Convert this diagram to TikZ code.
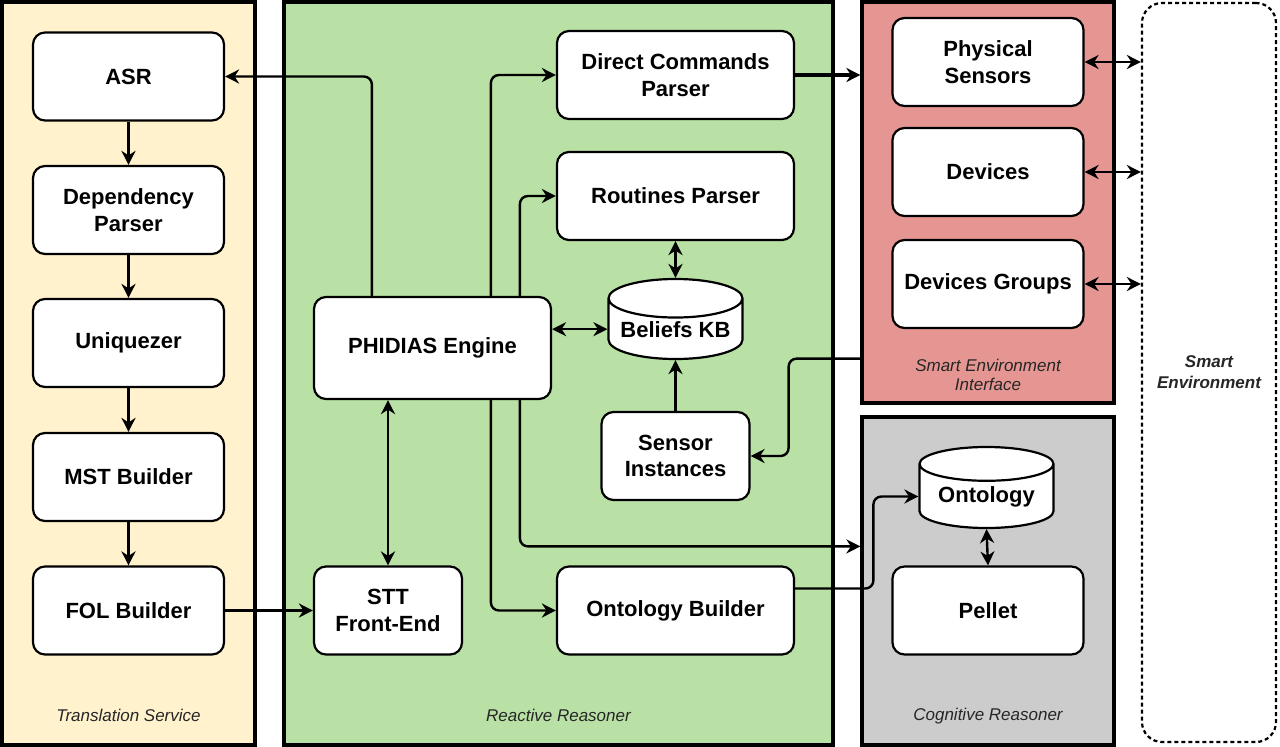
\documentclass[tikz,border=0pt]{standalone}
\usepackage{fontspec}
\setmainfont{Liberation Sans}
\setsansfont{Liberation Sans}
\usetikzlibrary{arrows.meta, shapes.geometric, positioning, calc}
\definecolor{transfill}{RGB}{255, 242, 204}
\definecolor{reactfill}{RGB}{185, 224, 165}
\definecolor{envfill}{RGB}{229, 150, 146}
\definecolor{cogfill}{RGB}{204, 204, 204}

\begin{document}
\begin{tikzpicture}[
	x=1pt, y=-1pt,
	>={Stealth[length=14pt, width=14pt, inset=4.5pt]},
	font=\sffamily,
	% Styles for the service containers
	container/.style={draw=black, line width=3.2pt, minimum width=#1, inner sep=0pt},
	grouplabel/.style={font=\sffamily\itshape\fontsize{17}{19}\selectfont, text=black!85, align=center},
	% Styles for the component blocks
	boxnode/.style={draw=black, line width=2.2pt, fill=white, rounded corners=12pt, align=center,
		font=\sffamily\bfseries\fontsize{22}{26.5}\selectfont, minimum width=191pt, minimum height=88pt, inner sep=0pt},
	dbnode/.style={cylinder, shape border rotate=90, aspect=0.35, anchor=shape center, draw=black, line width=2.2pt, fill=white,
		font=\sffamily\bfseries\fontsize{22}{26.5}\selectfont, minimum width=134pt, minimum height=80pt, inner sep=0pt},
	% Styles for the connectors
	conn/.style={line width=2.4pt, ->, rounded corners=8pt},
	biconn/.style={line width=2.4pt, <->},
	thickconn/.style={line width=3.2pt, ->}
	]
	\useasboundingbox (0,0) rectangle (1280,747);
	
	% ==========================================
	% CONTAINERS
	% ==========================================
	\node[container=253pt, fill=transfill, minimum height=743pt] (ts) at (128.5,373.5) {};
	\node[container=549pt, fill=reactfill, minimum height=743pt] (rr) at (558.5,373.5) {};
	\node[container=252pt, fill=envfill, minimum height=401pt] (sei) at (988,202.5) {};
	\node[container=252pt, fill=cogfill, minimum height=328pt] (cog) at (988,581) {};
	\node[draw=black, line width=2.2pt, dash pattern=on 4pt off 3pt, rounded corners=20pt,
		minimum width=134pt, minimum height=739pt] (se) at (1209,372.5) {};
	
	\node[grouplabel] at ([yshift=31pt]ts.south) {Translation Service};
	\node[grouplabel] at ([yshift=31pt]rr.south) {Reactive Reasoner};
	\node[grouplabel] at ([yshift=31pt]cog.south) {Cognitive Reasoner};
	\node[grouplabel] at ([yshift=30pt]sei.south) {Smart Environment\\Interface};
	\node[grouplabel, font=\sffamily\bfseries\itshape\fontsize{17}{21}\selectfont] at (se) {Smart\\Environment};
	
	% ==========================================
	% TRANSLATION SERVICE
	% ==========================================
	\node[boxnode] (asr) at (128.5,76.5) {ASR};
	\node[boxnode] (dep) at (128.5,210) {Dependency\\Parser};
	\node[boxnode] (uniq) at (128.5,343) {Uniquezer};
	\node[boxnode] (mst) at (128.5,477) {MST Builder};
	\node[boxnode] (fol) at (128.5,610.5) {FOL Builder};
	
	% ==========================================
	% REACTIVE REASONER
	% ==========================================
	\node[boxnode, minimum width=237pt, minimum height=102pt] (phidias) at (432.5,348) {PHIDIAS Engine};
	\node[boxnode, minimum width=148pt] (stt) at (388,610.5) {STT\\Front-End};
	\node[boxnode, minimum width=237pt] (dcp) at (675.5,75) {Direct Commands\\Parser};
	\node[boxnode, minimum width=237pt] (rp) at (675.5,196) {Routines Parser};
	\node[dbnode] (beliefs) at (675.5,319) {Beliefs KB};
	\node[boxnode, minimum width=148pt] (si) at (675.5,456) {Sensor\\Instances};
	\node[boxnode, minimum width=237pt] (ob) at (675.5,610.5) {Ontology Builder};
	
	% ==========================================
	% SMART ENVIRONMENT INTERFACE / COGNITIVE REASONER
	% ==========================================
	\node[boxnode] (ps) at (988,62) {Physical\\Sensors};
	\node[boxnode] (dev) at (988,172) {Devices};
	\node[boxnode] (dg) at (988,284) {Devices Groups};
	\node[dbnode, minimum height=81pt] (onto) at (986.5,487.5) {Ontology};
	\node[boxnode] (pellet) at (988,610.5) {Pellet};
	
	% ==========================================
	% CONNECTORS
	% ==========================================
	\draw[conn] (asr) -- (dep);
	\draw[conn] (dep) -- (uniq);
	\draw[conn] (uniq) -- (mst);
	\draw[conn] (mst) -- (fol);
	\draw[thickconn] (fol) -- (stt);
	\draw[biconn] (stt.north) -- (stt.north |- phidias.south);
	
	\draw[conn] ([xshift=59pt]phidias.north west) |- (asr.east);
	\draw[conn] ([xshift=178pt]phidias.north west) |- (dcp.west);
	\draw[conn] ([xshift=207pt]phidias.north west) |- (rp.west);
	\draw[biconn] (phidias.east |- beliefs.west) -- (beliefs.west);
	\draw[biconn] (rp.south) -- (beliefs.north);
	\draw[conn] (si.north) -- (beliefs.south);
	\draw[thickconn] (dcp.east) -- (sei.west |- dcp.east);
	\draw[conn] ([yshift=46pt]sei.south west) -| ($(si.east)+(38,0)$) -- (si.east);
	\draw[conn] ([xshift=207pt]phidias.south west) |- ([yshift=-131pt]cog.north west);
	\draw[conn] ([xshift=178pt]phidias.south west) |- (ob.west);
	\draw[conn] ([yshift=22pt]ob.east) -| ($(onto.west)+(-45,0)$) -- (onto.west);
	\draw[biconn] (onto.south) -- (pellet.north);
	
	\draw[biconn] (ps.east) -- (se.west |- ps.east);
	\draw[biconn] (dev.east) -- (se.west |- dev.east);
	\draw[biconn] (dg.east) -- (se.west |- dg.east);
	
\end{tikzpicture}
\end{document}
